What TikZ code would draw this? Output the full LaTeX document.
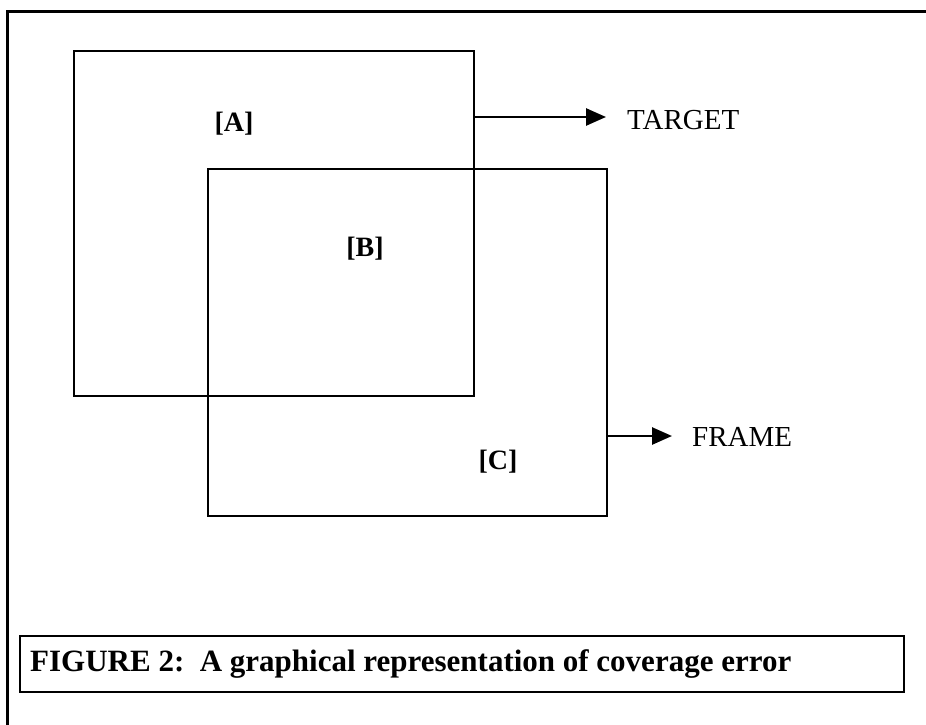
\documentclass[tikz,border=0pt]{standalone}
\usepackage{fontspec}
\setmainfont{Liberation Serif}
\usetikzlibrary{arrows.meta}
\begin{document}
\begin{tikzpicture}[x=1pt,y=-1pt,
  boxframe/.style={draw, line width=2.6pt, inner sep=0pt},
  lbl/.style={font=\fontsize{28}{30}\selectfont\bfseries, inner sep=0pt},
  tgt/.style={font=\fontsize{29}{31}\selectfont, inner sep=0pt, anchor=west},
  arr/.style={line width=2.6pt, -{Triangle[length=20pt,width=17pt]}}]
\useasboundingbox (0,0) rectangle (926,725);
% outer frame (open right and bottom)
\draw[line width=3pt] (926,12) -- (7,12) -- (7,725);
% boxes
\node[boxframe, minimum width=400pt, minimum height=345pt] (A) at (274,223.5) {};
\node[boxframe, minimum width=399pt, minimum height=347pt] (B) at (407.5,342.5) {};
% labels
\node[lbl] (la) at (234,124) {[A]};
\node[lbl] (lb) at (365,249) {[B]};
\node[lbl] (lc) at (498,462) {[C]};
% target and frame
\node[tgt] (target) at (627,120) {TARGET};
\node[tgt] (frame) at (692,437) {FRAME};
\coordinate (t0) at (474,117);
\coordinate (t1) at (606,117);
\coordinate (f0) at (607,436);
\coordinate (f1) at (672,436);
\draw[arr] (t0) -- (t1);
\draw[arr] (f0) -- (f1);
% caption
\node[draw, line width=2.6pt, minimum width=884pt, minimum height=56pt, inner sep=0pt] (cap) at (462,664) {};
\node[font=\fontsize{31}{33}\selectfont\bfseries, inner sep=0pt, anchor=west] (captxt) at (30,664) {FIGURE 2:\ \ A graphical representation of coverage error};
\end{tikzpicture}
\end{document}
